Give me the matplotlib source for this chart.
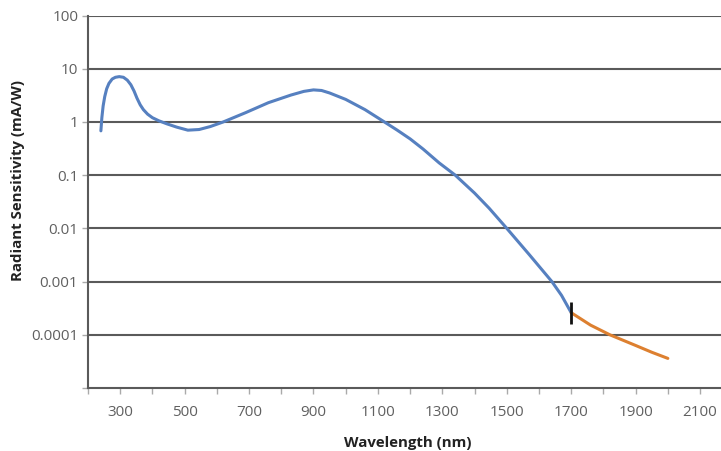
import matplotlib
matplotlib.use("Agg")
import matplotlib.pyplot as plt
from matplotlib.ticker import FixedLocator, NullFormatter

wl_main = [240, 243, 247, 252, 258, 265, 275, 285, 297, 310, 322, 333, 343, 352,
           362, 372, 385, 400, 420, 445, 475, 510, 545, 580, 620, 690, 760, 830,
           870, 900, 925, 950, 1000, 1060, 1120, 1160, 1200, 1240, 1290, 1340, 1400,
           1445, 1500, 1570, 1640, 1670, 1700]
sens_main = [0.68, 1.2, 2.0, 3.0, 4.2, 5.3, 6.4, 6.9, 7.1, 6.9, 6.1, 5.0, 3.8, 2.8,
             2.1, 1.7, 1.4, 1.2, 1.05, 0.92, 0.8, 0.70, 0.72, 0.82, 1.0, 1.5, 2.3,
             3.2, 3.75, 4.0, 3.9, 3.5, 2.65, 1.7, 1.0, 0.7, 0.48, 0.31, 0.17, 0.1, 0.046,
             0.024, 0.01, 0.0032, 0.001, 0.00055, 0.00026]

wl_ext = [1700, 1760, 1820, 1900, 1950, 2000]
sens_ext = [0.00026, 0.000152, 0.0001, 0.000063, 0.000047, 0.000036]

cut_wl = 1700
cut_sens = 0.00026

x_major = [300, 500, 700, 900, 1100, 1300, 1500, 1700, 1900, 2100]
x_minor = [200, 400, 600, 800, 1000, 1200, 1400, 1600, 1800, 2000]
y_ticks = [1e-5, 1e-4, 1e-3, 1e-2, 1e-1, 1, 10, 100]
y_labels = ["", "0.0001", "0.001", "0.01", "0.1", "1", "10", "100"]

plt.rcParams['font.family'] = ['Open Sans', 'DejaVu Sans']

fig = plt.figure(figsize=(7.21, 4.51), dpi=100)
ax = fig.add_axes([88/721, 63/451, 1 - 88/721, (388 - 15.5)/451])

ax.set_yscale('log')
ax.set_xlim(200, 2165)
ax.set_ylim(1e-5, 100)

for yv in y_ticks[1:]:
    ax.axhline(yv, color='#5a5a5a', lw=1.5, zorder=1)

ax.plot(wl_main, sens_main, color='#5680c0', lw=2.2, zorder=3,
        solid_capstyle='round', solid_joinstyle='round')
ax.plot(wl_ext, sens_ext, color='#dd8030', lw=2.2, zorder=3,
        solid_capstyle='round', solid_joinstyle='round')
ax.plot([cut_wl], [cut_sens], marker='|', color='#111111', markersize=16,
        markeredgewidth=2, zorder=4)

ax.spines['top'].set_visible(False)
ax.spines['right'].set_visible(False)
for s in ['left', 'bottom']:
    ax.spines[s].set_color('#5a5a5a')
    ax.spines[s].set_linewidth(1.5)

ax.yaxis.set_major_locator(FixedLocator(y_ticks))
ax.set_yticklabels(y_labels)
ax.yaxis.set_minor_locator(FixedLocator([]))
ax.yaxis.set_minor_formatter(NullFormatter())

ax.set_xticks(x_major)
ax.set_xticklabels([str(v) for v in x_major])
ax.xaxis.set_minor_locator(FixedLocator(x_minor))

ax.tick_params(axis='both', which='both', length=4, width=1, color='#aaaaaa',
               labelcolor='#606060', labelsize=11)
ax.tick_params(axis='x', pad=8)
ax.tick_params(axis='y', pad=3)

ax.set_xlabel('Wavelength (nm)', fontsize=10.8, fontweight='bold', color='#222222')
ax.xaxis.label.set_va('center')
ax.xaxis.set_label_coords(0.505, -0.148)
ax.set_ylabel('Radiant Sensitivity (mA/W)', fontsize=10.8, fontweight='bold', color='#222222')
ax.yaxis.label.set_va('center')
ax.yaxis.set_label_coords(-0.11, 0.556)

fig.savefig('out.png', dpi=100)
